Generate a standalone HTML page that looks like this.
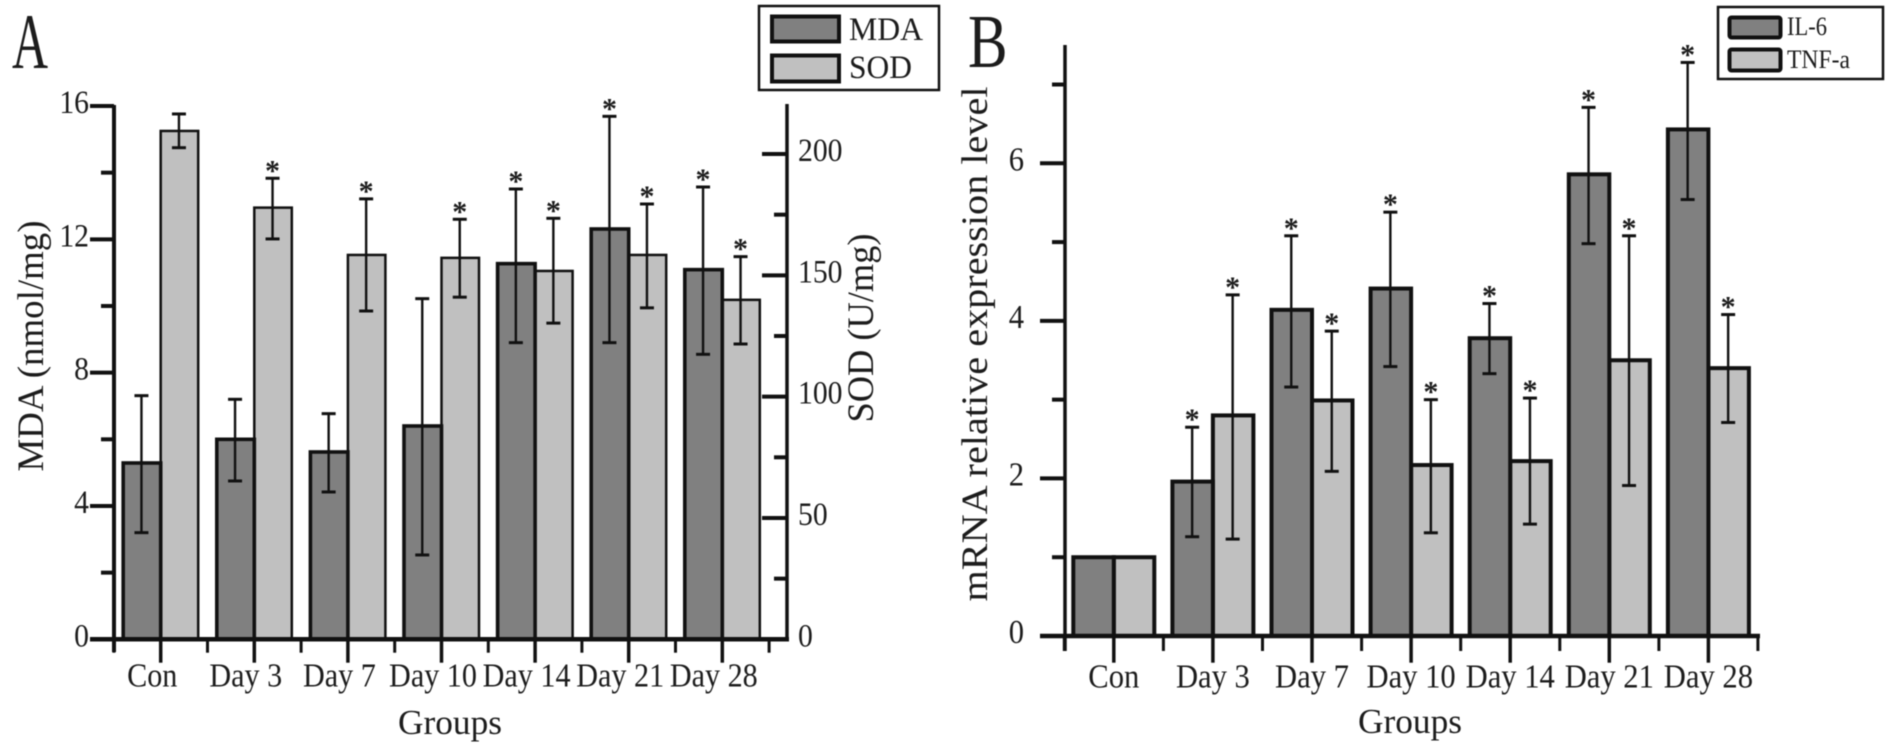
<!DOCTYPE html>
<html lang="en">
<head>
<meta charset="utf-8">
<title>MDA, SOD, IL-6 and TNF-a by group</title>
<style>
  html, body { margin: 0; padding: 0; background: #fff; }
  svg { display: block; filter: blur(0.5px); }
  text { font-family: "Liberation Serif", "Times New Roman", serif; fill: #1c1c1c; }
</style>
</head>
<body>
<svg id="figure" width="1888" height="752" viewBox="0 0 1888 752" xmlns="http://www.w3.org/2000/svg">
  <rect x="0" y="0" width="1888" height="752" fill="#fff"/>

  <g id="panelA"></g>
  <g id="panelB"></g>

  <text transform="translate(12 68) scale(0.64 1)" font-size="78">A</text>
  <text transform="translate(968 67) scale(0.78 1)" font-size="76">B</text>

  <text transform="translate(43 346) rotate(-90)" text-anchor="middle" font-size="37" textLength="251" lengthAdjust="spacingAndGlyphs">MDA (nmol/mg)</text>
  <text transform="translate(873 328) rotate(-90)" text-anchor="middle" font-size="37" textLength="189" lengthAdjust="spacingAndGlyphs">SOD (U/mg)</text>
  <text x="450" y="734" text-anchor="middle" font-size="35" textLength="104" lengthAdjust="spacingAndGlyphs">Groups</text>
  <text transform="translate(987 344) rotate(-90)" text-anchor="middle" font-size="37" textLength="515" lengthAdjust="spacingAndGlyphs">mRNA relative expression level</text>
  <text x="1410" y="733" text-anchor="middle" font-size="35" textLength="104" lengthAdjust="spacingAndGlyphs">Groups</text>

  <g>
    <rect x="759" y="6" width="180" height="84" fill="#fff" stroke="#111" stroke-width="2.5"/>
    <rect x="772" y="16.5" width="67" height="25" fill="#808080" stroke="#111" stroke-width="4"/>
    <text x="849" y="40" font-size="33" textLength="74" lengthAdjust="spacingAndGlyphs">MDA</text>
    <rect x="772" y="55.5" width="67" height="26" fill="#c0c0c0" stroke="#111" stroke-width="4"/>
    <text x="849" y="78" font-size="33" textLength="63" lengthAdjust="spacingAndGlyphs">SOD</text>
  </g>

  <g>
    <rect x="1718" y="7" width="165" height="72" fill="#fff" stroke="#111" stroke-width="2.5"/>
    <rect x="1729.5" y="17.5" width="51" height="20" rx="2" fill="#808080" stroke="#111" stroke-width="4"/>
    <text x="1787" y="35" font-size="26" textLength="40" lengthAdjust="spacingAndGlyphs">IL-6</text>
    <rect x="1729.5" y="49.5" width="51" height="21" rx="2" fill="#c0c0c0" stroke="#111" stroke-width="4"/>
    <text x="1787" y="68" font-size="26" textLength="63" lengthAdjust="spacingAndGlyphs">TNF-a</text>
  </g>
</svg>

<script>
// ---- chart data ----
const categories = ["Con", "Day 3", "Day 7", "Day 10", "Day 14", "Day 21", "Day 28"];

const mdaValues = [5.29, 6.0, 5.62, 6.4, 11.27, 12.31, 11.09];
const mdaUpper  = [7.31, 7.2, 6.77, 10.22, 13.51, 15.69, 13.57];
const mdaLower  = [3.2, 4.75, 4.42, 2.53, 8.9, 8.9, 8.55];
const mdaStars  = [false, false, false, false, true, true, true];

const sodValues = [209.5, 177.9, 158.4, 157.2, 151.8, 158.4, 139.9];
const sodUpper  = [216.5, 190, 181.5, 173.1, 173.5, 179.4, 157.7];
const sodLower  = [202.6, 165, 135.3, 141, 130.3, 136.6, 121.7];
const sodStars  = [false, true, true, true, true, true, true];

const il6Values = [1, 1.96, 4.14, 4.41, 3.78, 5.86, 6.43];
const il6Upper  = [1, 2.65, 5.08, 5.38, 4.22, 6.71, 7.28];
const il6Lower  = [1, 1.26, 3.16, 3.42, 3.33, 4.98, 5.54];
const il6Stars  = [false, true, true, true, true, true, true];

const tnfValues = [1, 2.8, 2.99, 2.17, 2.22, 3.5, 3.4];
const tnfUpper  = [1, 4.33, 3.87, 3.0, 3.02, 5.08, 4.08];
const tnfLower  = [1, 1.23, 2.09, 1.31, 1.42, 1.91, 2.71];
const tnfStars  = [false, true, true, true, true, true, true];

const mdaMajorTicks = [0, 4, 8, 12, 16];
const mdaMinorTicks = [2, 6, 10, 14];
const sodMajorTicks = [0, 50, 100, 150, 200];
const sodMinorTicks = [25, 75, 125, 175];
const mrnaMajorTicks = [0, 2, 4, 6];
const mrnaMinorTicks = [1, 3, 5, 7];

// ---- drawing ----
const SVGNS = "http://www.w3.org/2000/svg";
const INK = "#111";

function shape(parent, tag, attrs) {
  const node = document.createElementNS(SVGNS, tag);
  for (const key in attrs) node.setAttribute(key, attrs[key]);
  parent.appendChild(node);
  return node;
}

function line(parent, x1, y1, x2, y2, width) {
  return shape(parent, "line", { x1, y1, x2, y2, stroke: INK, "stroke-width": width });
}

function label(parent, x, y, content, size, anchor, squeeze) {
  const node = shape(parent, "text", {
    transform: "translate(" + x + " " + y + ") scale(" + squeeze + " 1)",
    "font-size": size,
    "text-anchor": anchor
  });
  node.textContent = content;
  return node;
}

function linearScale(domainMax, pixelZero, pixelMax) {
  return function (value) {
    return pixelZero + (value / domainMax) * (pixelMax - pixelZero);
  };
}

function drawSeries(parent, seriesKey, xCenter, yScale, values, upper, lower, stars, barOffset, barWidth, fill, strokeWidth, starGap) {
  const baseline = yScale(0);
  values.forEach(function (value, i) {
    const left = xCenter(i) + barOffset;
    const top = yScale(value);
    const bar = shape(parent, "rect", {
      x: left, y: top, width: barWidth, height: baseline - top,
      fill: fill, stroke: INK, "stroke-width": strokeWidth
    });
    
    
  });
  values.forEach(function (value, i) {
    const mid = xCenter(i) + barOffset + barWidth / 2 - 0.5;
    if (upper[i] !== lower[i]) {
      const stem = line(parent, mid, yScale(upper[i]), mid, yScale(lower[i]), 2.4);
      
      
      const capTop = line(parent, mid - 7, yScale(upper[i]), mid + 7, yScale(upper[i]), 3);
      
      
      const capBottom = line(parent, mid - 7, yScale(lower[i]), mid + 7, yScale(lower[i]), 3);
      
      
    }
    if (stars[i]) {
      const star = label(parent, mid, yScale(upper[i]) + starGap, "*", 30, "middle", 1);
      star.setAttribute('font-weight', 'bold');
      
      
    }
  });
}

function drawYMarks(parent, axisKey, yScale, axisX, majors, minors, majorLen, minorLen) {
  majors.forEach(function (tick) {
    const y = yScale(tick);
    const mark = line(parent, axisX, y, axisX - majorLen, y, 4);
    
    
  });
  minors.forEach(function (tick) {
    const y = yScale(tick);
    const mark = line(parent, axisX, y, axisX - minorLen, y, 4);
    
    
  });
}

function drawYLabels(parent, axisKey, yScale, labelX, majors, anchor, size) {
  majors.forEach(function (tick) {
    const text = label(parent, labelX, yScale(tick) + 7, String(tick), size, anchor, 0.9);
    
    
  });
}

function drawXTicks(parent, axisKey, xCenter, halfStep, axisY, majorEnd, minorEnd, labelShift, labelY, size) {
  categories.forEach(function (name, i) {
    const c = xCenter(i);
    const major = line(parent, c, axisY, c, majorEnd, 3.5);
    
    
    const minor = line(parent, c - halfStep, axisY, c - halfStep, minorEnd, 3);
    
    
    const text = label(parent, c + labelShift, labelY, name, size, "middle", 0.9);
    
    
  });
  const last = xCenter(categories.length - 1) + halfStep;
  const closing = line(parent, last, axisY, last, minorEnd, 3);
  
  
}

// Panel A
(function () {
  const g = document.getElementById("panelA");
  const xCenter = function (i) { return 160.7 + 93.6 * i; };
  const yMda = linearScale(16, 639.3, 106);
  const ySod = linearScale(200, 639.3, 154);

  drawSeries(g, "sod", xCenter, ySod, sodValues, sodUpper, sodLower, sodStars, 0, 37.5, "#c0c0c0", 2.5, 2);
  drawSeries(g, "mda", xCenter, yMda, mdaValues, mdaUpper, mdaLower, mdaStars, -37.5, 37.5, "#808080", 3.6, 2);

  const leftAxis = line(g, 114, 105, 114, 652, 4);
  
  
  const rightAxis = line(g, 787, 104, 787, 641, 3.5);
  
  
  const xAxis = line(g, 90, 639.3, 789, 639.3, 4.5);
  
  

  drawYMarks(g, "panel-a-left-y", yMda, 114, mdaMajorTicks, mdaMinorTicks, 24, 13);
  drawYLabels(g, "panel-a-left-y", yMda, 89, mdaMajorTicks, "end", 33);
  drawYMarks(g, "panel-a-right-y", ySod, 787, sodMajorTicks, sodMinorTicks, 25, 13);
  drawYLabels(g, "panel-a-right-y", ySod, 798, sodMajorTicks, "start", 33);
  drawXTicks(g, "panel-a-x", xCenter, 46.8, 639.3, 662.7, 652.7, -8.5, 686.7, 33.5);
})();

// Panel B
(function () {
  const g = document.getElementById("panelB");
  const xCenter = function (i) { return 1113.8 + 99.1 * i; };
  const yMrna = linearScale(6, 636, 163.3);

  drawSeries(g, "tnf", xCenter, yMrna, tnfValues, tnfUpper, tnfLower, tnfStars, 0, 40.5, "#c0c0c0", 4, 2);
  drawSeries(g, "il6", xCenter, yMrna, il6Values, il6Upper, il6Lower, il6Stars, -40.5, 40.5, "#808080", 4, 2);

  const yAxis = line(g, 1065, 45, 1065, 651, 3.5);
  
  
  const xAxis = line(g, 1040, 636, 1760, 636, 4.5);
  
  

  drawYMarks(g, "panel-b-y", yMrna, 1065, mrnaMajorTicks, mrnaMinorTicks, 25, 13);
  drawYLabels(g, "panel-b-y", yMrna, 1024, mrnaMajorTicks, "end", 34);
  drawXTicks(g, "panel-b-x", xCenter, 49.5, 636, 662.7, 651, 0, 687.7, 34);
})();
</script>
</body>
</html>
